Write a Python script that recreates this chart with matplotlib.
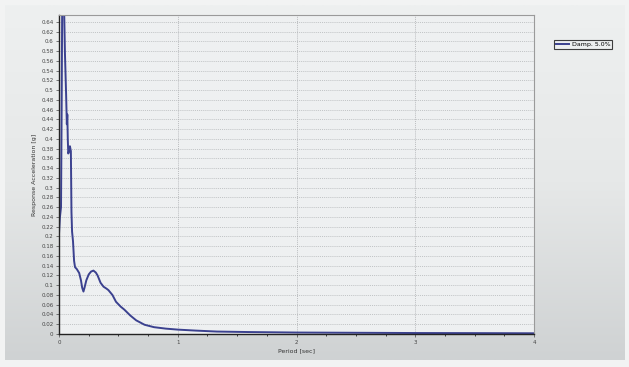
import matplotlib
matplotlib.use("Agg")
import matplotlib.pyplot as plt
import numpy as np

period = [0.0, 0.008, 0.017, 0.022, 0.027, 0.035, 0.042, 0.05, 0.06, 0.066, 0.07, 0.074,
          0.078, 0.085, 0.092, 0.1, 0.105, 0.11, 0.118, 0.127, 0.135, 0.15, 0.17, 0.185,
          0.195, 0.206, 0.215, 0.23, 0.25, 0.27, 0.29, 0.31, 0.325, 0.35, 0.375, 0.4,
          0.416, 0.45, 0.48, 0.52, 0.55, 0.6, 0.65, 0.72, 0.8, 0.9, 1.0, 1.15, 1.33,
          1.6, 2.0, 2.5, 3.0, 3.5, 4.0]
sa = [0.205, 0.24, 0.26, 0.45, 0.68, 0.70, 0.68, 0.576, 0.49, 0.43, 0.45, 0.40,
      0.37, 0.375, 0.385, 0.375, 0.25, 0.21, 0.19, 0.15, 0.137, 0.133, 0.125, 0.11,
      0.095, 0.087, 0.095, 0.11, 0.122, 0.128, 0.13, 0.126, 0.12, 0.105, 0.097, 0.093,
      0.09, 0.08, 0.066, 0.056, 0.05, 0.038, 0.028, 0.019, 0.014, 0.011, 0.009, 0.007, 0.005,
      0.004, 0.003, 0.0025, 0.002, 0.0018, 0.0015]
yticks = [round(0.02 * i, 2) for i in range(33)]
xticks = [0, 1, 2, 3, 4]
series_label = "Damp. 5.0%"

fig = plt.figure(figsize=(6.29, 3.67), dpi=100, facecolor="#f2f3f3")

# background panel with a soft vertical gradient
bg = fig.add_axes([5 / 629, 7 / 367, 620 / 629, 355 / 367], zorder=-5)
grad = np.linspace(0, 1, 256).reshape(-1, 1)
from matplotlib.colors import LinearSegmentedColormap
cmap = LinearSegmentedColormap.from_list("bg", ["#cfd2d3", "#e6e8e8", "#eef0f0"])
bg.imshow(grad, aspect="auto", cmap=cmap, origin="lower", extent=[0, 1, 0, 1])
bg.set_axis_off()

ax = fig.add_axes([59 / 629, 1 - 334 / 367, 475 / 629, 319 / 367])
ax.set_facecolor("#eef0f1")
ax.plot(period, sa, color="#3b418f", lw=1.4, label=series_label)
ax.set_xlim(0, 4)
ax.set_ylim(0, 0.654)
ax.set_yticks(yticks)
ax.set_yticklabels([("%g" % v) for v in yticks])
ax.set_xticks(xticks)
ax.set_xticks(np.arange(0, 4.01, 0.25), minor=True)
ax.tick_params(axis="both", labelsize=4, length=2, width=0.5, colors="#444444", pad=2)
ax.tick_params(axis="x", which="minor", length=1.5, width=0.5)
ax.grid(True, axis="y", linestyle=(0, (1.5, 1.5)), color="#b0b3b5", lw=0.5)
ax.grid(True, axis="x", linestyle=(0, (1.5, 1.5)), color="#a8abad", lw=0.5)
for s in ["top", "right"]:
    ax.spines[s].set_color("#9a9a9a")
    ax.spines[s].set_linewidth(0.8)
for s in ["left", "bottom"]:
    ax.spines[s].set_color("#222222")
    ax.spines[s].set_linewidth(1.0)
ax.set_xlabel("Period [sec]", fontsize=4.5, labelpad=3, color="#333333")
ax.set_ylabel("Response Acceleration [g]", fontsize=4.5, labelpad=3, color="#333333")
leg = ax.legend(loc="upper left", bbox_to_anchor=(551 / 629, 1 - 37 / 367), bbox_transform=fig.transFigure,
                fontsize=4.5, frameon=True, fancybox=False, handlelength=2, borderpad=0.3,
                handletextpad=0.5)
leg.get_frame().set_edgecolor("#111111")
leg.get_frame().set_linewidth(0.8)
leg.get_frame().set_facecolor("#eef0f1")
fig.savefig("out.png", dpi=100, facecolor=fig.get_facecolor())
